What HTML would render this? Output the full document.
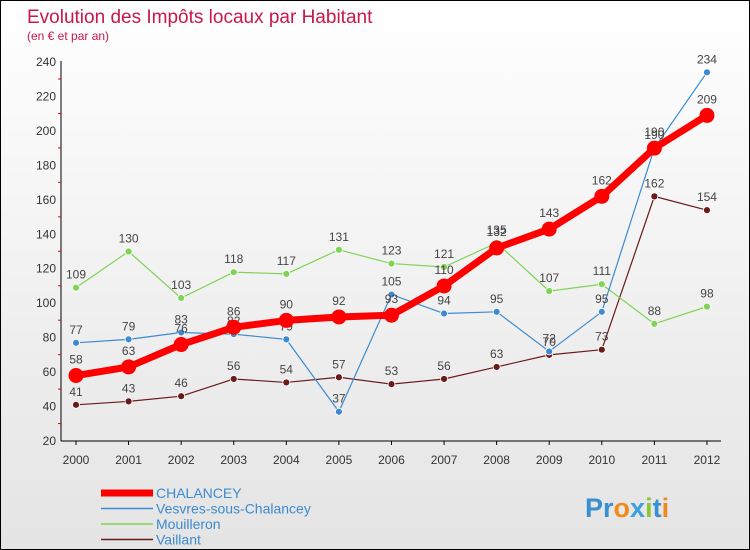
<!DOCTYPE html>
<html><head><meta charset="utf-8"><style>
body{margin:0}
#c{width:748px;height:548px;border:1px solid #000;background:linear-gradient(#fff,#e4e4e4);position:relative;font-family:"Liberation Sans",sans-serif;overflow:hidden}
</style></head><body>
<div id="c">
<svg id="s" width="748" height="548">
<text x="26" y="22" font-size="19" fill="#c8174b">Evolution des Impôts locaux par Habitant</text>
<text x="26" y="39" font-size="12" fill="#c8174b">(en € et par an)</text>
<g id="axes"></g><g id="series"></g>
<text x="584" y="516" font-size="27" font-weight="bold" fill="#3a8fd0">Pr<tspan fill="#f08a1c">o</tspan><tspan fill="#3aa0e0">x</tspan><tspan fill="#8ac43a">i</tspan>t<tspan fill="#f08a1c">i</tspan></text>
</svg>
</div>
<script>
const years=["2000","2001","2002","2003","2004","2005","2006","2007","2008","2009","2010","2011","2012"];
const yTicks=[20,40,60,80,100,120,140,160,180,200,220,240];
const chalancey=[58,63,76,86,90,92,93,110,132,143,162,190,209];
const vesvres=[77,79,83,82,79,37,105,94,95,72,95,190,234];
const mouilleron=[109,130,103,118,117,131,123,121,135,107,111,88,98];
const vaillant=[41,43,46,56,54,57,53,56,63,70,73,162,154];
const NS="http://www.w3.org/2000/svg";
const X=i=>75+i*52.58, Y=v=>440-(v-20)*379/220;
function mk(t,a,p){const e=document.createElementNS(NS,t);for(const k in a)e.setAttribute(k,a[k]);p.appendChild(e);return e;}
const ax=document.getElementById('axes');
let l=mk('line',{x1:60,y1:60,x2:60,y2:440,stroke:'#000'},ax);


l=mk('line',{x1:60,y1:440,x2:720,y2:440,stroke:'#000'},ax);


yTicks.forEach(v=>{const t=mk('text',{x:55,y:Y(v)+4,'font-size':12,fill:'#333','text-anchor':'end'},ax);t.textContent=v;


if(Y(v)+17<440)mk('line',{x1:57,y1:Y(v)+17,x2:60,y2:Y(v)+17,stroke:'#e00'},ax);});
years.forEach((y,i)=>{const t=mk('text',{x:X(i),y:463,'font-size':12,fill:'#333','text-anchor':'middle'},ax);t.textContent=y;


mk('line',{x1:X(i),y1:440,x2:X(i),y2:444,stroke:'#000'},ax);});
const sg=document.getElementById('series');
const defs=[[vaillant,'#6b1a1a',1.2,3.5,'vaillant'],[mouilleron,'#7fd455',1.2,3.5,'mouilleron'],[vesvres,'#3d8ad0',1.2,3.5,'vesvres-sous-chalancey'],[chalancey,'#ff0000',7,7.5,'chalancey']];
defs.forEach(([d,c,w,r,n])=>{const g=mk('g',{},sg);


const p=mk('polyline',{points:d.map((v,i)=>X(i)+','+Y(v)).join(' '),fill:'none',stroke:c,'stroke-width':w,'stroke-linejoin':'round'},g);


d.forEach((v,i)=>{const pt=mk('circle',{cx:X(i),cy:Y(v),r:r,fill:c,stroke:w>2?c:'#fff','stroke-width':w>2?0:0.8},g);


const t=mk('text',{x:X(i),y:Y(v)-(w>2?12:9),'font-size':12,fill:'#444','text-anchor':'middle'},g);t.textContent=v;

});});
const leg=[['CHALANCEY','#ff0000',7],['Vesvres-sous-Chalancey','#3d8ad0',1.5],['Mouilleron','#7fd455',1.5],['Vaillant','#6b1a1a',1.5]];
leg.forEach(([n,c,w],i)=>{const y=492+i*15.5;const g=mk('g',{},sg);


mk('line',{x1:100,y1:y,x2:152,y2:y,stroke:c,'stroke-width':w},g);
const t=mk('text',{x:155,y:y+5,'font-size':14,fill:'#3d8ad0'},g);t.textContent=n;});
</script>
</body></html>
